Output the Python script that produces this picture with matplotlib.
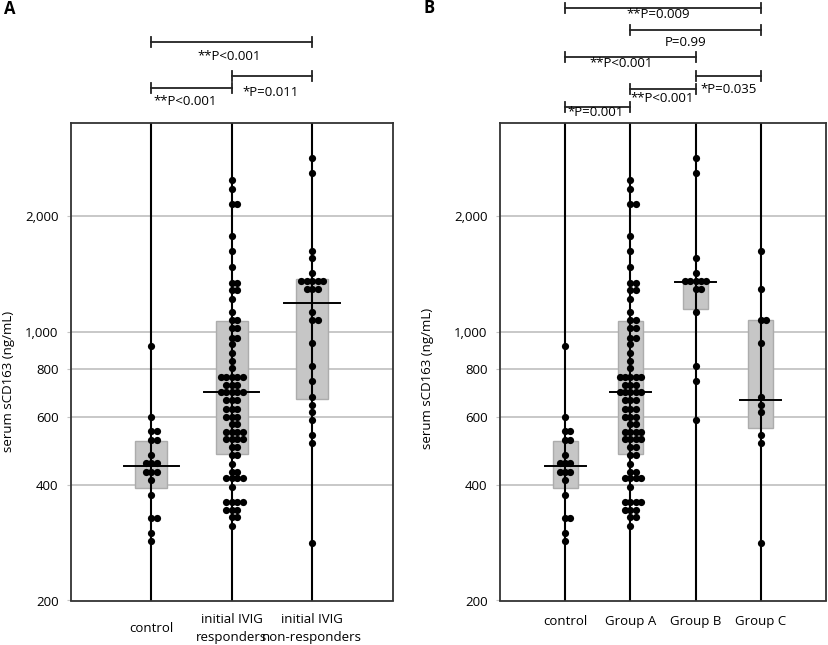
import numpy as np
import matplotlib
matplotlib.use('Agg')
import matplotlib.pyplot as plt
from matplotlib.patches import Rectangle
from matplotlib.ticker import FixedLocator, NullLocator
from matplotlib.transforms import blended_transform_factory

plt.rcParams['font.family'] = ['Open Sans', 'DejaVu Sans']

W, H = 829, 645

# serum sCD163 values (ng/mL)
control = [918, 602, 551, 551, 524, 524, 477, 455, 455, 455, 433, 433, 433,
           412, 377, 327, 327, 299, 285]
responders = [2484, 2360, 2154, 2154, 1777, 1623, 1477, 1339, 1339, 1284, 1284,
              1222, 1130, 1075, 1075, 1023, 1023, 967, 967, 928, 881, 841, 804,
              764, 764, 764, 764, 764, 729, 729, 729, 699, 699, 699, 699, 699,
              664, 664, 664, 632, 632, 632, 601, 601, 601, 577, 577,
              549, 549, 549, 549, 525, 525, 525, 525, 501, 501, 477, 477, 454,
              433, 433, 416, 416, 416, 416, 396, 361, 361, 361, 361,
              344, 344, 344, 329, 329, 313]
group_b = [2838, 2588, 1559, 1422, 1360, 1360, 1360, 1360, 1360, 1294, 1294,
           1125, 816, 744, 590]
group_c = [1628, 1294, 1077, 1077, 938, 679, 647, 618, 538, 513, 282]
nonresponders = group_b + group_c

labels_a = ['control', 'initial IVIG\nresponders', 'initial IVIG\nnon-responders']
labels_b = ['control', 'Group A', 'Group B', 'Group C']

# (q1, median, q3) of the grey boxes
box_a = [(392, 447, 519), (480, 700, 1071), (669, 1192, 1376)]
box_b = [(392, 447, 519), (480, 700, 1071), (1148, 1350, 1365), (563, 666, 1077)]

yticks = [200, 400, 600, 800, 1000, 2000]
ytick_labels = ['200', '400', '600', '800', '1,000', '2,000']

# comparisons: group i, group j, bracket y (px from top), text, text x, text y
stats_a = [(0, 2, 42.3, '**P<0.001', 1.965, 56),
           (1, 2, 76, '*P=0.011', 2.484, 92.7),
           (0, 1, 88.3, '**P<0.001', 1.418, 101.7)]
stats_b = [(0, 3, 8.3, '**P=0.009', 2.428, 15),
           (1, 3, 30, 'P=0.99', 2.853, 42.3),
           (0, 2, 57.3, '**P<0.001', 1.856, 63.3),
           (2, 3, 76, '*P=0.035', 3.50, 89.3),
           (1, 2, 89.3, '**P<0.001', 2.48, 98.3),
           (0, 1, 106.7, '*P=0.001', 1.472, 112.7)]


def swarm_offsets(vals, thr=0.01):
    v = np.asarray(vals, float)
    lv = np.log10(v)
    offs = np.zeros(len(v))
    pattern = [0, 1, -1, 2, -2, 3, -3]
    start = None
    k = 0
    for i in np.argsort(-v, kind='stable'):
        if start is None or start - lv[i] > thr:
            start = lv[i]
            k = 0
        offs[i] = pattern[min(k, len(pattern) - 1)]
        k += 1
    return offs


def draw_panel(fig, ax, groups, labels, boxes, stats, box_w, med_w, step, xpad):
    n = len(groups)
    ax.set_yscale('log')
    ax.set_ylim(200, 3500)
    ax.set_xlim(0, n + 1)
    for y in yticks[1:]:
        ax.axhline(y, color='#c4c4c4', lw=1.3, zorder=0)
    ax.yaxis.set_major_locator(FixedLocator(yticks))
    ax.yaxis.set_minor_locator(NullLocator())
    ax.set_yticklabels(ytick_labels)
    ax.tick_params(axis='y', length=3, color='#c4c4c4', pad=6, labelsize=9.5)
    ax.set_xticks(range(1, n + 1))
    ax.set_xticklabels(labels, fontsize=9.5)
    ax.tick_params(axis='x', length=0, pad=xpad)
    for lbl in ax.get_xticklabels():
        lbl.set_verticalalignment('center')
        lbl.set_linespacing(1.45)
    for sp in ax.spines.values():
        sp.set_linewidth(1.3)
        sp.set_color('#333333')

    for i, vals in enumerate(groups):
        x = i + 1
        q1, med, q3 = boxes[i]
        ax.axvline(x, color='black', lw=1.5, zorder=2)
        ax.add_patch(Rectangle((x - box_w / 2, q1), box_w, q3 - q1,
                               facecolor='#c6c6c6', edgecolor='#acacac',
                               lw=1, zorder=1))
        offs = swarm_offsets(vals)
        ax.scatter(x + offs * step, vals, s=27, color='black', linewidths=0,
                   zorder=3)
        ax.plot([x - med_w / 2, x + med_w / 2], [med, med], color='black',
                lw=1.4, zorder=4)

    trans = blended_transform_factory(ax.transData, fig.transFigure)
    cap = 5 / H
    for g1, g2, ypx, txt, tx, typ in stats:
        yf = 1 - ypx / H
        x1, x2 = g1 + 1, g2 + 1
        kw = dict(transform=trans, clip_on=False, color='#222222', lw=1.3)
        ax.plot([x1, x2], [yf, yf], **kw)
        ax.plot([x1, x1], [yf - cap, yf + cap], **kw)
        ax.plot([x2, x2], [yf - cap, yf + cap], **kw)
        ax.text(tx, 1 - typ / H, txt, transform=trans, ha='center',
                va='center', fontsize=9.5)


fig = plt.figure(figsize=(W / 100, H / 100), dpi=100)
bottom = 1 - 600.5 / H
height = (600.5 - 123) / H
ax_a = fig.add_axes([71 / W, bottom, 321.5 / W, height])
ax_b = fig.add_axes([500 / W, bottom, 326 / W, height])

draw_panel(fig, ax_a, [control, responders, nonresponders], labels_a, box_a,
           stats_a, 0.40, 0.69, 0.068, 20.0)
draw_panel(fig, ax_b, [control, responders, group_b, group_c], labels_b, box_b,
           stats_b, 0.38, 0.63, 0.081, 14.8)

fig.text(9 / W, 1 - 381 / H, 'serum sCD163 (ng/mL)', rotation=90,
         ha='center', va='center', fontsize=9.5)
fig.text(427 / W, 1 - 378 / H, 'serum sCD163 (ng/mL)', rotation=90,
         ha='center', va='center', fontsize=9.5)
fig.text(10 / W, 1 - 9 / H, 'A', fontsize=12, fontweight='bold',
         ha='center', va='center')
fig.text(429 / W, 1 - 8 / H, 'B', fontsize=12, fontweight='bold',
         ha='center', va='center')

fig.savefig('out.png', dpi=100)
